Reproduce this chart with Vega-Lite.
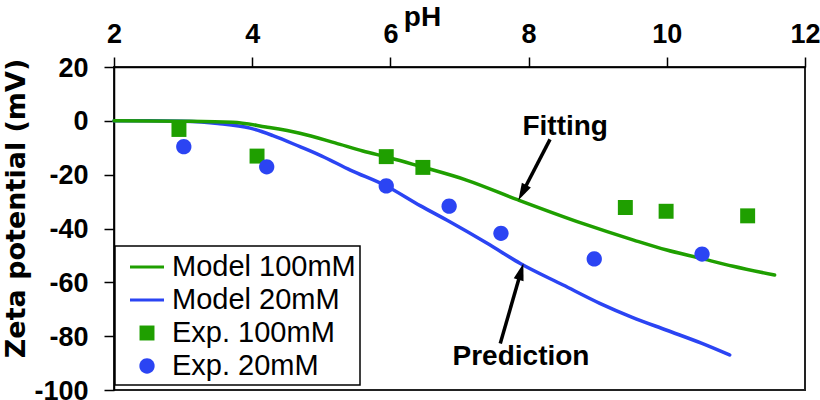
{
  "$schema": "https://vega.github.io/schema/vega-lite/v6.json",
  "autosize": "none",
  "padding": {"left": 114, "top": 67, "right": 15, "bottom": 10},
  "width": 691,
  "height": 323,
  "background": "white",
  "config": {
    "view": {"stroke": "#222", "strokeWidth": 2},
    "axis": {
      "grid": false,
      "labelFont": "Liberation Sans",
      "labelFontWeight": "bold",
      "labelFontSize": 27,
      "labelColor": "black",
      "domainColor": "black",
      "domainWidth": 1.5,
      "tickColor": "black",
      "tickWidth": 1.5,
      "tickSize": 10,
      "titleColor": "black",
      "titleFontWeight": "bold"
    },
    "legend": {"strokeWidth": 1.5}
  },
  "datasets": {
    "models": [
      {"series": "Model 20mM", "pH": 2.0, "zeta": 0},
      {"series": "Model 20mM", "pH": 2.5, "zeta": 0},
      {"series": "Model 20mM", "pH": 3.0, "zeta": -0.2},
      {"series": "Model 20mM", "pH": 3.5, "zeta": -1.0},
      {"series": "Model 20mM", "pH": 3.97, "zeta": -2.7},
      {"series": "Model 20mM", "pH": 4.3, "zeta": -5.5},
      {"series": "Model 20mM", "pH": 4.69, "zeta": -9.6},
      {"series": "Model 20mM", "pH": 5.0, "zeta": -13.0},
      {"series": "Model 20mM", "pH": 5.42, "zeta": -18.3},
      {"series": "Model 20mM", "pH": 5.94, "zeta": -24.2},
      {"series": "Model 20mM", "pH": 6.43, "zeta": -31.5},
      {"series": "Model 20mM", "pH": 6.86, "zeta": -37.5},
      {"series": "Model 20mM", "pH": 7.4, "zeta": -45.5},
      {"series": "Model 20mM", "pH": 7.88, "zeta": -53.0},
      {"series": "Model 20mM", "pH": 8.5, "zeta": -61.0},
      {"series": "Model 20mM", "pH": 9.03, "zeta": -67.8},
      {"series": "Model 20mM", "pH": 9.5, "zeta": -73.0},
      {"series": "Model 20mM", "pH": 10.0, "zeta": -77.8},
      {"series": "Model 20mM", "pH": 10.5, "zeta": -82.6},
      {"series": "Model 20mM", "pH": 10.91, "zeta": -87.0},
      {"series": "Model 100mM", "pH": 2.0, "zeta": 0},
      {"series": "Model 100mM", "pH": 3.0, "zeta": -0.15},
      {"series": "Model 100mM", "pH": 3.72, "zeta": -0.5},
      {"series": "Model 100mM", "pH": 4.2, "zeta": -2.3},
      {"series": "Model 100mM", "pH": 4.69, "zeta": -4.6},
      {"series": "Model 100mM", "pH": 5.2, "zeta": -8.2},
      {"series": "Model 100mM", "pH": 5.6, "zeta": -11.2},
      {"series": "Model 100mM", "pH": 6.0, "zeta": -13.8},
      {"series": "Model 100mM", "pH": 6.4, "zeta": -16.7},
      {"series": "Model 100mM", "pH": 7.1, "zeta": -22.0},
      {"series": "Model 100mM", "pH": 7.85, "zeta": -29.4},
      {"series": "Model 100mM", "pH": 8.79, "zeta": -38.2},
      {"series": "Model 100mM", "pH": 9.52, "zeta": -44.3},
      {"series": "Model 100mM", "pH": 10.0, "zeta": -48.0},
      {"series": "Model 100mM", "pH": 10.48, "zeta": -51.0},
      {"series": "Model 100mM", "pH": 10.96, "zeta": -54.0},
      {"series": "Model 100mM", "pH": 11.56, "zeta": -57.3}
    ],
    "exp": [
      {"series": "Exp. 100mM", "pH": 2.94, "zeta": -3.2},
      {"series": "Exp. 100mM", "pH": 4.07, "zeta": -13.1},
      {"series": "Exp. 100mM", "pH": 5.94, "zeta": -13.3},
      {"series": "Exp. 100mM", "pH": 6.47, "zeta": -17.3},
      {"series": "Exp. 100mM", "pH": 9.4, "zeta": -32.2},
      {"series": "Exp. 100mM", "pH": 9.99, "zeta": -33.6},
      {"series": "Exp. 100mM", "pH": 11.17, "zeta": -35.3},
      {"series": "Exp. 20mM", "pH": 3.01, "zeta": -9.6},
      {"series": "Exp. 20mM", "pH": 4.21, "zeta": -17.1},
      {"series": "Exp. 20mM", "pH": 5.94, "zeta": -24.2},
      {"series": "Exp. 20mM", "pH": 6.85, "zeta": -31.7},
      {"series": "Exp. 20mM", "pH": 7.6, "zeta": -41.8},
      {"series": "Exp. 20mM", "pH": 8.95, "zeta": -51.3},
      {"series": "Exp. 20mM", "pH": 10.51, "zeta": -49.5}
    ],
    "arrows": [
      {"arrow": "Fitting", "pH": 8.31, "zeta": -6.9},
      {"arrow": "Fitting", "pH": 7.91, "zeta": -26.7},
      {"arrow": "Prediction", "pH": 7.59, "zeta": -82.7},
      {"arrow": "Prediction", "pH": 7.89, "zeta": -56.0}
    ],
    "labels": [
      {"label": "Fitting", "pH": 8.53, "zeta": -5.3},
      {"label": "Prediction", "pH": 7.89, "zeta": -90.8}
    ]
  },
  "encoding": {
    "x": {
      "field": "pH",
      "type": "quantitative",
      "scale": {"domain": [2, 12], "nice": false, "zero": false},
      "axis": {
        "orient": "top",
        "values": [2, 4, 6, 8, 10, 12],
        "labelPadding": 9,
        "labelFlush": false,
        "title": "pH",
        "titleFont": "Liberation Sans",
        "titleFontSize": 28,
        "titleX": 308,
        "titleY": -42,
        "titleAlign": "center",
        "titleBaseline": "alphabetic"
      }
    },
    "y": {
      "field": "zeta",
      "type": "quantitative",
      "scale": {"domain": [-100, 20], "nice": false, "zero": false},
      "axis": {
        "values": [20, 0, -20, -40, -60, -80, -100],
        "labelPadding": 16,
        "labelBaseline": "alphabetic",
        "labelOffset": 9,
        "labelExpr": "'' + datum.value",
        "title": "Zeta potential (mV)",
        "titleFont": "DejaVu Sans",
        "titleFontSize": 27,
        "titleX": -98,
        "titleY": 141,
        "titleAlign": "center",
        "titleBaseline": "middle",
        "titleAngle": -90
      }
    }
  },
  "layer": [
    {
      "data": {"name": "models"},
      "transform": [{"filter": "datum.series === 'Model 20mM'"}],
      "mark": {"type": "line", "color": "#2b44f3", "strokeWidth": 3.5, "interpolate": "monotone", "strokeCap": "round"}
    },
    {
      "data": {"name": "models"},
      "transform": [{"filter": "datum.series === 'Model 100mM'"}],
      "mark": {"type": "line", "color": "#1f9f00", "strokeWidth": 3.5, "interpolate": "monotone", "strokeCap": "round"}
    },
    {
      "data": {"name": "exp"},
      "mark": {"type": "point", "filled": true, "opacity": 1, "size": 1156, "strokeWidth": 0},
      "encoding": {
        "color": {
          "field": "series",
          "type": "nominal",
          "scale": {
            "domain": ["Model 100mM", "Model 20mM", "Exp. 100mM", "Exp. 20mM"],
            "range": ["#1f9f00", "#2b44f3", "#1f9f00", "#2b44f3"]
          },
          "legend": {
            "title": null,
            "orient": "none",
            "legendX": 1,
            "legendY": 179,
            "padding": 4,
            "rowPadding": 1,
            "strokeColor": "black",
            "fillColor": "white",
            "labelFont": "Liberation Sans",
            "labelFontSize": 29,
            "labelColor": "black",
            "labelLimit": 400,
            "labelOffset": 8,
            "symbolOffset": 11,
            "symbolSize": 1156,
            "symbolStrokeWidth": 0,
            "symbolOpacity": 1
          }
        },
        "shape": {
          "field": "series",
          "type": "nominal",
          "scale": {
            "domain": ["Model 100mM", "Model 20mM", "Exp. 100mM", "Exp. 20mM"],
            "range": [
              "M-1,-0.09H1V0.09H-1Z",
              "M-1,-0.09H1V0.09H-1Z",
              "M-0.44,-0.44H0.44V0.44H-0.44Z",
              "M0.45,0A0.45,0.45,0,1,1,-0.45,0A0.45,0.45,0,1,1,0.45,0Z"
            ]
          },
          "legend": {
            "title": null,
            "orient": "none",
            "legendX": 1,
            "legendY": 179,
            "padding": 4,
            "rowPadding": 1,
            "strokeColor": "black",
            "fillColor": "white",
            "labelFont": "Liberation Sans",
            "labelFontSize": 29,
            "labelColor": "black",
            "labelLimit": 400,
            "labelOffset": 8,
            "symbolOffset": 11,
            "symbolSize": 1156,
            "symbolStrokeWidth": 0,
            "symbolOpacity": 1
          }
        }
      }
    },
    {
      "data": {"name": "arrows"},
      "mark": {"type": "line", "color": "black", "strokeWidth": 3.5},
      "encoding": {"detail": {"field": "arrow", "type": "nominal"}}
    },
    {
      "data": {"name": "arrows"},
      "transform": [{"filter": "datum.arrow === 'Fitting' && datum.zeta < -20"}],
      "mark": {"type": "point", "filled": true, "opacity": 1, "color": "black", "shape": "M0,-1L0.6,1L-0.6,1Z", "size": 289, "angle": 208, "strokeWidth": 0}
    },
    {
      "data": {"name": "arrows"},
      "transform": [{"filter": "datum.arrow === 'Prediction' && datum.zeta > -60"}],
      "mark": {"type": "point", "filled": true, "opacity": 1, "color": "black", "shape": "M0,-1L0.6,1L-0.6,1Z", "size": 289, "angle": 16, "strokeWidth": 0}
    },
    {
      "data": {"name": "labels"},
      "mark": {"type": "text", "font": "Liberation Sans", "fontWeight": "bold", "fontSize": 28, "color": "black", "align": "center", "baseline": "alphabetic"},
      "encoding": {"text": {"field": "label", "type": "nominal"}}
    }
  ]
}
